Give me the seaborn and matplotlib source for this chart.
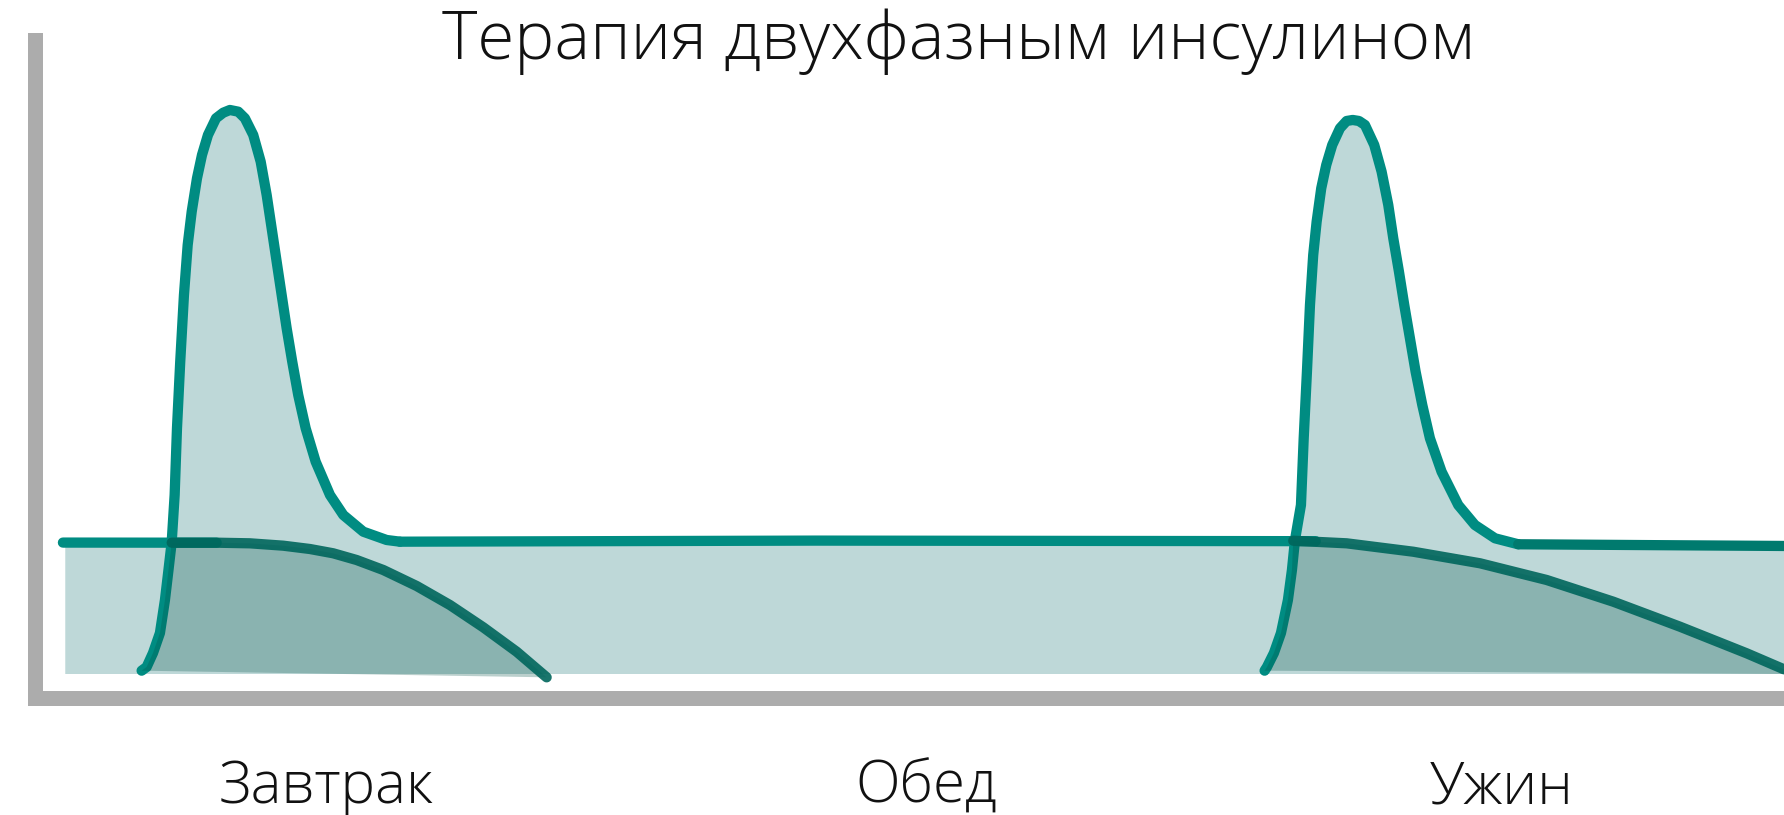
import numpy as np
import matplotlib
matplotlib.use("Agg")
import matplotlib.pyplot as plt
import seaborn as sns

TITLE = "Терапия двухфазным инсулином"
MEALS = ["Завтрак", "Обед", "Ужин"]
MEAL_T = [8.0, 14.13, 20.0]          # hours

# short-acting component (time in hours, action in % of max)
PEAK1_T = [6.119, 6.170, 6.235, 6.306, 6.357, 6.393, 6.426, 6.456, 6.480, 6.513, 6.551,
           6.589, 6.630, 6.684, 6.735, 6.796, 6.878, 6.952, 7.020, 7.105, 7.173, 7.258,
           7.334, 7.395, 7.446, 7.497, 7.548, 7.599, 7.656, 7.717, 7.793, 7.895, 8.041,
           8.177, 8.381, 8.619, 8.755]
PEAK1_V = [0.59, 1.24, 3.72, 7.27, 13.12, 18.44, 23.40, 31.74, 43.62, 55.37, 67.20,
           76.06, 81.97, 87.89, 92.02, 95.57, 98.53, 99.52, 100.0, 99.70, 98.53, 95.57,
           90.83, 84.93, 79.02, 73.10, 67.20, 61.29, 55.37, 49.47, 43.56, 37.64, 31.74,
           28.19, 25.23, 23.76, 23.46]

PEAK2_T = [17.578, 17.602, 17.673, 17.745, 17.816, 17.857, 17.888, 17.949, 17.977, 18.010,
           18.041, 18.074, 18.109, 18.156, 18.207, 18.268, 18.347, 18.415, 18.477, 18.541,
           18.602, 18.697, 18.772, 18.840, 18.891, 18.949, 19.003, 19.061, 19.119, 19.187,
           19.265, 19.384, 19.554, 19.724, 19.929, 20.166]
PEAK2_V = [0.59, 1.24, 3.72, 7.27, 13.12, 18.44, 23.76, 29.96, 41.79, 53.60,
           65.43, 74.29, 80.20, 86.12, 90.25, 93.79, 96.76, 98.05, 98.23, 98.05,
           97.34, 93.79, 89.06, 83.16, 77.25, 71.33, 65.43, 59.52, 53.60, 47.70,
           41.79, 35.87, 29.96, 26.42, 24.06, 23.00]

# basal level segments
BASAL_L_T = [5.316, 6.885]
BASAL_L_V = [23.30, 23.28]
BASAL_M_T = [8.755, 13.0, 18.1]
BASAL_M_V = [23.46, 23.65, 23.55]
BASAL_R_T = [20.166, 22.878]
BASAL_R_V = [23.00, 22.70]

# intermediate-acting component
DARK1_T = [6.426, 6.885, 7.224, 7.564, 7.837, 8.074, 8.313, 8.585, 8.926, 9.265,
           9.605, 9.946, 10.252]
DARK1_V = [23.28, 23.28, 23.17, 22.75, 22.16, 21.40, 20.21, 18.44, 15.60, 12.23,
           8.28, 3.95, -0.59]
DARK2_T = [17.870, 18.415, 19.095, 19.776, 20.456, 21.136, 21.816, 22.497, 22.878]
DARK2_V = [23.63, 23.17, 21.68, 19.63, 16.67, 12.82, 8.39, 3.67, 0.83]

FILL_START = 5.34
FLOOR = 0.0
XLIM = (5.028, 22.878)
YLIM = (-4.167, 112.32)

TEAL = "#008c82"
TEAL_DARK = "#007a6e"
DARK = "#00665c"
LIGHT_FILL = "#bed8d8"
AXIS_GRAY = "#acacac"

sns.set_theme(style="white")
plt.rcParams["font.family"] = ["Open Sans", "DejaVu Sans"]

fig = plt.figure(figsize=(17.84, 8.15), dpi=100)
ax = fig.add_axes([0.01945, 0.14417, 0.98055, 0.80614])
ax.set_xlim(*XLIM)
ax.set_ylim(*YLIM)

# light area: basal rectangle plus the two short-acting peaks
top_t = np.concatenate([[FILL_START], PEAK1_T[6:], BASAL_M_T[1:2], PEAK2_T[6:], BASAL_R_T[1:]])
top_v = np.concatenate([[BASAL_L_V[0]], PEAK1_V[6:], BASAL_M_V[1:2], PEAK2_V[6:], BASAL_R_V[1:]])
poly_t = np.concatenate([top_t, [XLIM[1], FILL_START]])
poly_v = np.concatenate([top_v, [FLOOR, FLOOR]])
ax.fill(poly_t, poly_v, color=LIGHT_FILL, lw=0, zorder=1)

lw = 7.4
line_kw = dict(estimator=None, sort=False, legend=False, ax=ax)
for t, v, c in [(BASAL_L_T, BASAL_L_V, TEAL), (BASAL_M_T, BASAL_M_V, TEAL),
                (PEAK1_T, PEAK1_V, TEAL), (PEAK2_T, PEAK2_V, TEAL),
                (BASAL_R_T, BASAL_R_V, TEAL_DARK)]:
    sns.lineplot(x=t, y=v, color=c, lw=lw, solid_capstyle="round",
                 solid_joinstyle="round", zorder=2, **line_kw)

# darker overlay under intermediate-acting curves
d1_t = np.concatenate([PEAK1_T[:6], DARK1_T])
d1_v = np.concatenate([PEAK1_V[:6], DARK1_V])
ax.fill(d1_t, d1_v, color="#005046", alpha=0.27, lw=0, zorder=3)
d2_t = np.concatenate([PEAK2_T[:6], DARK2_T, [XLIM[1]]])
d2_v = np.concatenate([PEAK2_V[:6], DARK2_V, [FLOOR]])
ax.fill(d2_t, d2_v, color="#005046", alpha=0.27, lw=0, zorder=3)

for t, v in [(DARK1_T, DARK1_V), (DARK2_T, DARK2_V)]:
    sns.lineplot(x=t, y=v, color=DARK, lw=lw, alpha=0.9, solid_capstyle="round",
                 solid_joinstyle="round", zorder=4, **line_kw)

# axes: thick gray L
for side in ["top", "right"]:
    ax.spines[side].set_visible(False)
for side in ["left", "bottom"]:
    sp = ax.spines[side]
    sp.set_visible(True)
    sp.set_color(AXIS_GRAY)
    sp.set_linewidth(10.8)
    sp.set_capstyle("projecting")

ax.set_yticks([])
ax.set_xticks(MEAL_T)
ax.set_xticklabels(MEALS, fontsize=42, fontweight="light", color="#111111")
for lab in ax.get_xticklabels():
    lab.set_va("baseline")
ax.tick_params(axis="x", length=0, pad=76)
ax.set_xlabel("")
ax.set_ylabel("")
ax.patch.set_alpha(0)

fig.text(959 / 1784, 1 - 59 / 815, TITLE, ha="center", va="baseline",
         fontsize=48.5, fontweight="light", color="#111111")

fig.savefig("out.png", dpi=100)
